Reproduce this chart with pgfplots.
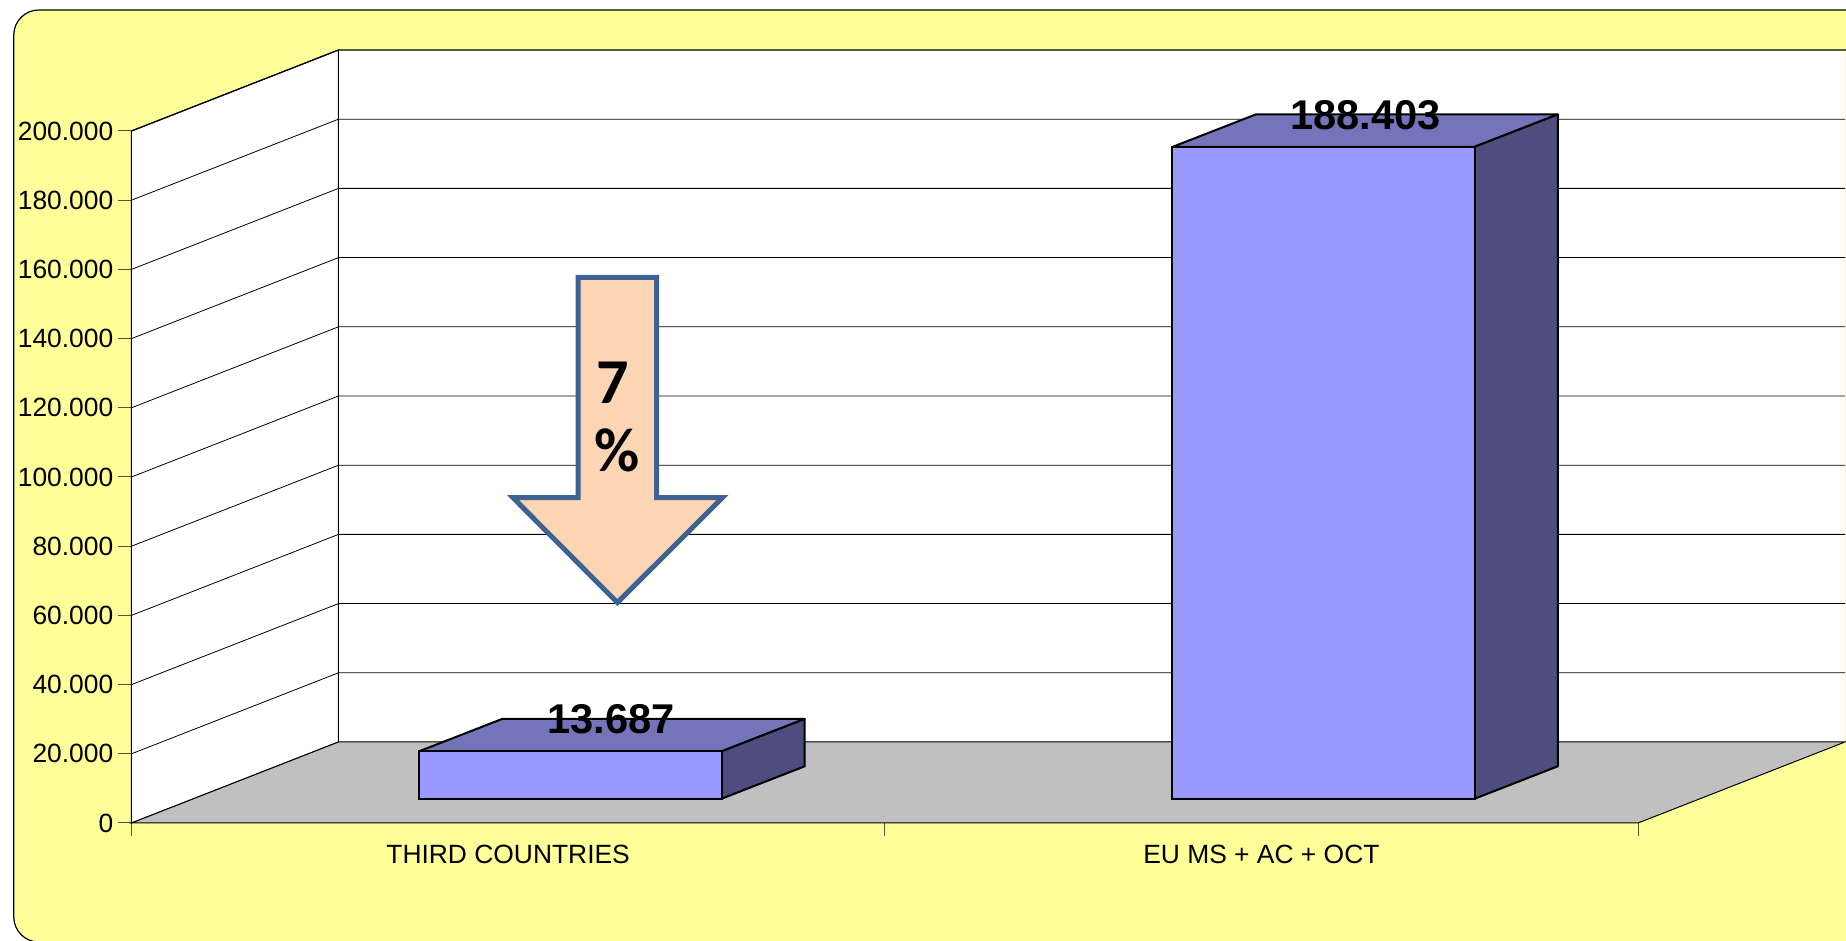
\documentclass[border=0pt]{standalone}
\usepackage{fontspec}
\setmainfont{Liberation Sans}
\newfontfamily\callout{Carlito}
\usepackage{pgfplots}
\pgfplotsset{compat=1.18}
\definecolor{bgy}{HTML}{FFFF99}
\definecolor{floorg}{HTML}{C0C0C0}
\definecolor{barf}{HTML}{9999FF}
\definecolor{bart}{HTML}{7474BA}
\definecolor{bars}{HTML}{4D4D7F}
\definecolor{arrf}{HTML}{FCD5B5}
\definecolor{arrl}{HTML}{3E6390}
\definecolor{tickc}{HTML}{55553A}
\begin{document}
\begin{tikzpicture}
\path[use as bounding box] (0,0) rectangle (923pt,470.5pt);
\clip (0,0) rectangle (923pt,470.5pt);
\draw[fill=bgy,draw=black,line width=0.6pt,rounded corners=12.5pt] (6.9pt,465.5pt) rectangle (960pt,-0.5pt);
\begin{axis}[
  at={(65.75pt,59pt)},anchor=south west,
  scale only axis,width=753.25pt,height=346pt,
  xmin=0,xmax=2,ymin=0,ymax=200000,
  clip=false,
  axis lines*=left,
  axis line style={line width=0.5pt,black},
  xtick={0,1,2},
  x tick label as interval,
  xticklabels={THIRD COUNTRIES,EU MS + AC + OCT},
  ytick={0,20000,40000,60000,80000,100000,120000,140000,160000,180000,200000},
  scaled y ticks=false,
  tick align=outside,
  major tick length=6.7pt,
  tick style={line width=0.5pt,tickc},
  yticklabel style={/pgf/number format/assume math mode=true,/pgf/number format/fixed,/pgf/number format/1000 sep={.},font=\fontsize{13.2}{15}\selectfont,inner sep=0pt,xshift=-2.2pt},
  xticklabel style={font=\fontsize{13.2}{15}\selectfont,inner sep=0pt,yshift=-4pt},
]
% side wall and back wall
\addplot[fill=white,draw=black,line width=0.5pt] coordinates {(0,0) (0.2748,23410) (0.2748,223410) (0,200000)} -- cycle;
\addplot[fill=white,draw=none] coordinates {(0.2748,23410) (2.2748,23410) (2.2748,223410) (0.2748,223410)} -- cycle;
\addplot[draw=black,line width=0.6pt] coordinates {(0,200000) (0.2748,223410) (2.3,223410)};
% grid lines
\addplot[draw=black,line width=0.4pt] coordinates {(0,20000) (0.2748,43410) (2.2748,43410)};
\addplot[draw=black,line width=0.4pt] coordinates {(0,40000) (0.2748,63410) (2.2748,63410)};
\addplot[draw=black,line width=0.4pt] coordinates {(0,60000) (0.2748,83410) (2.2748,83410)};
\addplot[draw=black,line width=0.4pt] coordinates {(0,80000) (0.2748,103410) (2.2748,103410)};
\addplot[draw=black,line width=0.4pt] coordinates {(0,100000) (0.2748,123410) (2.2748,123410)};
\addplot[draw=black,line width=0.4pt] coordinates {(0,120000) (0.2748,143410) (2.2748,143410)};
\addplot[draw=black,line width=0.4pt] coordinates {(0,140000) (0.2748,163410) (2.2748,163410)};
\addplot[draw=black,line width=0.4pt] coordinates {(0,160000) (0.2748,183410) (2.2748,183410)};
\addplot[draw=black,line width=0.4pt] coordinates {(0,180000) (0.2748,203410) (2.2748,203410)};
% floor
\addplot[fill=floorg,draw=black,line width=0.5pt] coordinates {(0,0) (2,0) (2.2748,23410) (0.2748,23410)} -- cycle;
\addplot[draw=black,line width=0.5pt] coordinates {(0.2748,23410) (0.2748,223410)};
% bars
\addplot[fill=bart,draw=black,line width=1pt,line join=round,yshift=12.15pt] coordinates {(0.3817,13687) (0.7834,13687) (0.8937,23047) (0.4920,23047)} -- cycle;
\addplot[fill=bars,draw=black,line width=1pt,line join=round,yshift=12.15pt] coordinates {(0.7834,0) (0.7834,13687) (0.8937,23047) (0.8937,9360)} -- cycle;
\addplot[ybar,bar width=151.3pt,bar shift=0pt,fill=barf,draw=black,line width=1pt,yshift=12.15pt] coordinates {(0.58255,13687)};
\addplot[fill=bart,draw=black,line width=1pt,line join=round,yshift=12.15pt] coordinates {(1.3823,188403) (1.7832,188403) (1.8935,197763) (1.4926,197763)} -- cycle;
\addplot[fill=bars,draw=black,line width=1pt,line join=round,yshift=12.15pt] coordinates {(1.7832,0) (1.7832,188403) (1.8935,197763) (1.8935,9360)} -- cycle;
\addplot[ybar,bar width=151.3pt,bar shift=0pt,fill=barf,draw=black,line width=1pt,yshift=12.15pt] coordinates {(1.58275,188403)};
% value labels
\node[font=\bfseries\fontsize{20.8}{22}\selectfont,inner sep=0pt] at (axis cs:0.6370,29855) {13.687};
\node[font=\bfseries\fontsize{20.8}{22}\selectfont,inner sep=0pt] at (axis cs:1.6385,204624) {188.403};
\end{axis}
% callout arrow
\draw[fill=arrf,draw=arrl,line width=2.5pt,miter limit=10]
  (289pt,331.85pt) -- (328.25pt,331.85pt) -- (328.25pt,221.65pt) -- (361.2pt,221.65pt)
  -- (308.7pt,169.2pt) -- (256.5pt,221.65pt) -- (289pt,221.65pt) -- cycle;
\node[font=\callout\bfseries\fontsize{32}{34}\selectfont,inner sep=0pt] at (306.6pt,279pt) {7};
\node[font=\callout\bfseries\fontsize{31}{34}\selectfont,inner sep=0pt] at (308.35pt,245.5pt) {\%};
\end{tikzpicture}
\end{document}
